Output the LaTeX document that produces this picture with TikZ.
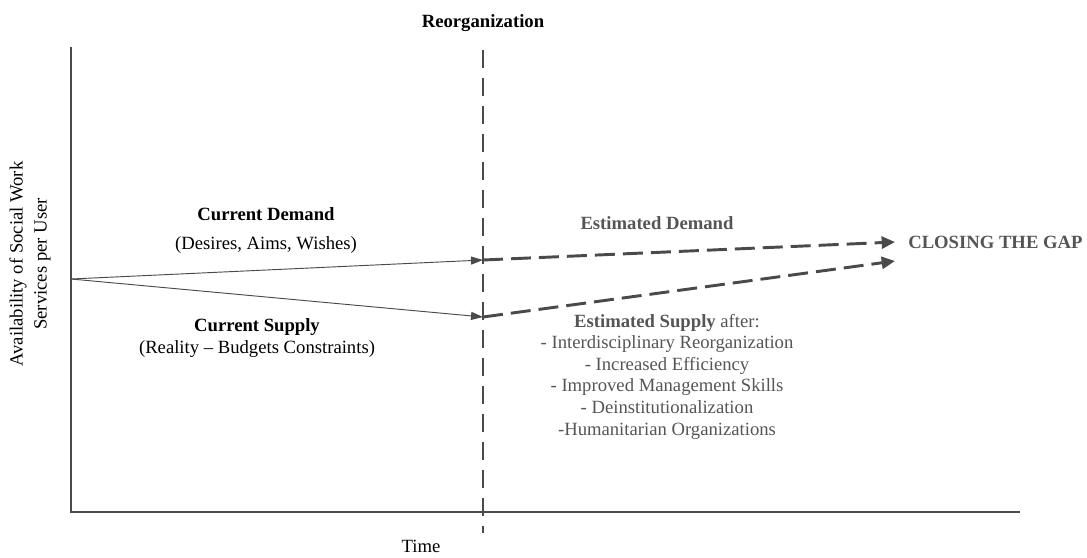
\documentclass[tikz,border=0pt]{standalone}
\usepackage{fontspec}
\setmainfont{Liberation Serif}
\usetikzlibrary{arrows.meta}
\definecolor{axisgray}{HTML}{4A4A4A}
\definecolor{txtgray}{HTML}{555555}
\begin{document}
\begin{tikzpicture}[x=0.75pt,y=-0.75pt,
  every node/.style={font=\fontsize{14}{16.5}\selectfont, inner sep=0pt},
  axisline/.style={draw=axisgray, line width=2pt},
  reorgline/.style={draw=axisgray, line width=1.9pt, dash pattern=on 13.5pt off 7.5pt},
  thinarrow/.style={draw=axisgray, line width=0.7pt, -{Triangle[length=9pt,width=6pt]}},
  estarrow/.style={draw=axisgray, line width=2.2pt, dash pattern=on 15pt off 6pt,
    -{Triangle[length=10pt,width=9pt]}},
  blacklbl/.style={text=black},
  graylbl/.style={text=txtgray, font=\fontsize{14}{16.2}\selectfont\bfseries}
]
\useasboundingbox (0,0) rectangle (1087,557);
% axes
\coordinate (ytop) at (71,47);
\coordinate (orig) at (71,512);
\coordinate (xend) at (1020,512);
\draw[axisline] (ytop) -- (orig) -- (xend);
% reorganization line
\coordinate (rtop) at (483,50);
\coordinate (rbot) at (483,533);
\draw[reorgline] (rtop) -- (rbot);
\node[blacklbl, font=\fontsize{14}{16.5}\selectfont\bfseries] (reorg) at (483,23) {Reorganization};
\node[blacklbl] (time) at (421,546) {Time};
\node[blacklbl, rotate=90, align=center, font=\fontsize{14}{18}\selectfont] (ylab) at (30,264)
  {Availability of Social Work\\Services per User};
% current lines
\coordinate (start) at (71,279);
\coordinate (d1) at (483,260);
\coordinate (s1) at (483,317);
\draw[thinarrow] (start) -- (d1);
\draw[thinarrow] (start) -- (s1);
% estimated lines
\coordinate (gd) at (895,242);
\coordinate (gs) at (895,261);
\draw[estarrow] (d1) -- (gd);
\draw[estarrow] (s1) -- (gs);
\node[graylbl, anchor=west] (gap) at (908,242) {CLOSING THE GAP};
% labels
\node[blacklbl, font=\fontsize{14}{16.5}\selectfont\bfseries] (cd) at (266,214) {Current Demand};
\node[blacklbl] (cdsub) at (266,245) {(Desires, Aims, Wishes)};
\node[blacklbl, align=center, font=\fontsize{14}{16.5}\selectfont] (cs) at (257,338)
  {\textbf{Current Supply}\\(Reality -- Budgets Constraints)};
\node[graylbl] (ed) at (657,223) {Estimated Demand};
\node[text=txtgray, align=center, font=\fontsize{14}{16.2}\selectfont] (es) at (667,376.5)
  {\textbf{Estimated Supply} after:\\- Interdisciplinary Reorganization\\- Increased Efficiency\\- Improved Management Skills\\- Deinstitutionalization\\-Humanitarian Organizations};
\end{tikzpicture}
\end{document}
